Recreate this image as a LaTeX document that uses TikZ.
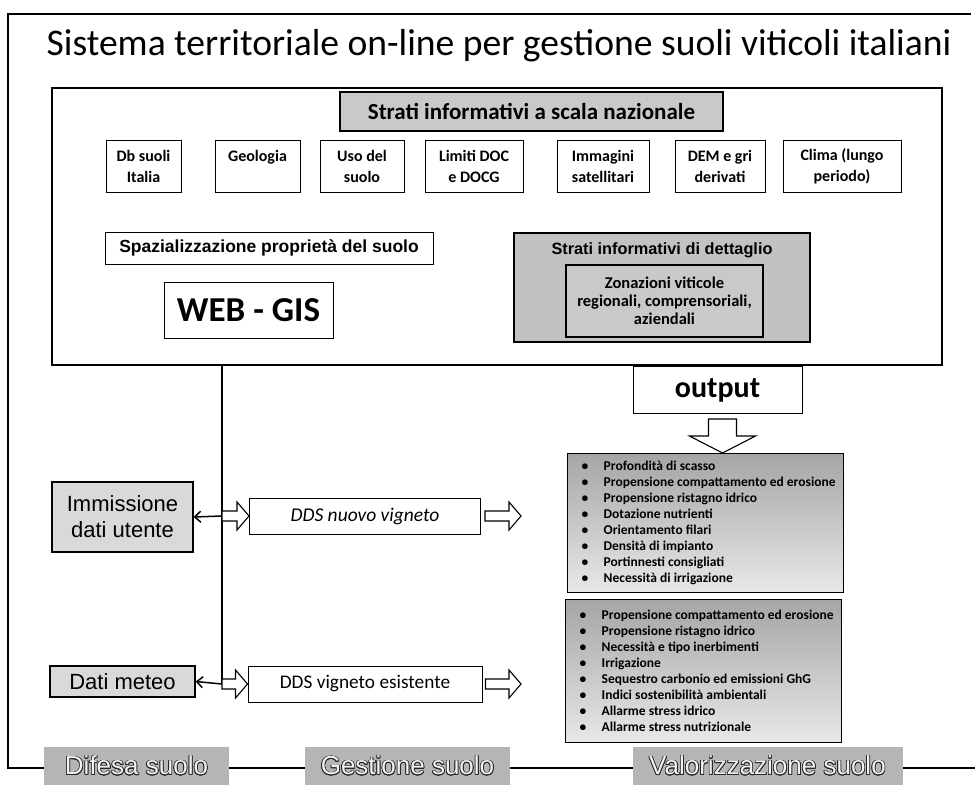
\documentclass[tikz,border=0pt]{standalone}
\usepackage{fontspec}
\usepackage[copies]{contour}
\setmainfont{Carlito}
\newfontfamily\arialfont{Liberation Sans}
\usetikzlibrary{arrows.meta,calc}

% hollow block arrow pointing right, from #1 to #2 (same height)
\newcommand\rightblock[2]{%
  \draw[blockarrow] let \p1=(#1), \p2=(#2) in
    (\x1,\y1+5pt) -- (\x2-12pt,\y1+5pt) -- (\x2-12pt,\y1+14pt) -- (\x2,\y1)
    -- (\x2-12pt,\y1-14pt) -- (\x2-12pt,\y1-5pt) -- (\x1,\y1-5pt) -- cycle;}
% hollow block arrow pointing down, from #1 to #2
\newcommand\downblock[2]{%
  \draw[blockarrow] let \p1=(#1), \p2=(#2) in
    (\x1-14pt,\y1) -- (\x1+14pt,\y1) -- (\x1+14pt,\y2+17pt) -- (\x1+33pt,\y2+17pt)
    -- (\x1,\y2) -- (\x1-33pt,\y2+17pt) -- (\x1-14pt,\y2+17pt) -- cycle;}

\contourlength{0.7pt}
\contournumber{16}
\newcommand\hollowtext[1]{\contour{black!85}{\textcolor{gray!10}{#1}}}

\tikzset{
  box/.style={draw, line width=1pt, fill=white, align=center, inner sep=0pt},
  layerbox/.style={box, font=\bfseries\fontsize{16}{21}\selectfont, minimum height=52},
  grayhead/.style={draw, line width=1.3pt, fill=gray!42, align=center, inner sep=0pt},
  listbox/.style={draw, line width=1.3pt, top color=gray!70, bottom color=gray!18,
    align=left, inner sep=0pt, anchor=north west,
    font=\bfseries\fontsize{13.5}{16}\selectfont},
  userbox/.style={draw, line width=1.3pt, fill=gray!30, align=center, inner sep=0pt,
    font=\arialfont\fontsize{22}{26}\selectfont},
  footer/.style={fill=gray!58, inner sep=0pt, minimum height=38,
    font=\arialfont\fontsize{26}{28}\selectfont},
  link/.style={line width=1.5pt},
  backarrow/.style={line width=1.5pt, -{Straight Barb[length=6pt,width=11pt]}},
  blockarrow/.style={draw, line width=1.1pt, fill=white, line join=miter},
}
\newcommand\bul{\makebox[22pt][l]{\textbullet}}

\begin{document}
\begin{tikzpicture}[x=1pt,y=-1pt]
\useasboundingbox (0,0) rectangle (975,785);

% outer frame
\draw[line width=1.3pt] (971,14) -- (8,14) -- (8,768) -- (975,768);

% title
\node[font=\fontsize{37.6}{40}\selectfont] (title) at (499,46) {Sistema territoriale on-line per gestione suoli viticoli italiani};

% main web-gis frame
\node[draw, line width=2pt, minimum width=890, minimum height=277] (gis) at (497,226.5) {};

\node[grayhead, minimum width=383, minimum height=39,
      font=\bfseries\fontsize{23}{25}\selectfont] (naz) at (531.5,111.5) {Strati informativi a scala nazionale};

\node[layerbox, minimum width=75]  (db)    at (143.5,166) {Db suoli\\Italia};
\node[layerbox, minimum width=85]  (geo)   at (257.5,166) {Geologia\\\mbox{}};
\node[layerbox, minimum width=84]  (uso)   at (362,166)   {Uso del\\suolo};
\node[layerbox, minimum width=98]  (doc)   at (474,166)   {Limiti DOC\\e DOCG};
\node[layerbox, minimum width=92]  (img)   at (603,166)   {Immagini\\satellitari};
\node[layerbox, minimum width=90]  (dem)   at (720,166)   {DEM e gri\\derivati};
\node[layerbox, minimum width=118] (clima) at (842,166)   {Clima (lungo\\periodo)};

\node[box, minimum width=328, minimum height=32,
      font=\arialfont\bfseries\fontsize{17.5}{20}\selectfont] (spaz) at (269,248) {Spazializzazione proprietà del suolo};
\node[box, minimum width=169, minimum height=56,
      font=\bfseries\fontsize{35}{38}\selectfont] (webgis) at (248.5,310) {WEB - GIS};

% detail layers
\node[grayhead, line width=1.5pt, fill=gray!48, minimum width=296, minimum height=109] (det) at (662,287.5) {};
\node[font=\arialfont\bfseries\fontsize{16.3}{18}\selectfont] (dettitle) at (662,250) {Strati informativi di dettaglio};
\node[grayhead, line width=1.2pt, minimum width=197, minimum height=72,
      font=\bfseries\fontsize{16.5}{18}\selectfont] (zon) at (664.5,301) {Zonazioni viticole\\regionali, comprensoriali,\\aziendali};

% output
\node[box, minimum width=169, minimum height=47,
      font=\bfseries\fontsize{30}{32}\selectfont, anchor=north] (out) at (717.5,366) {output};

% output lists
\node[listbox, minimum width=276, minimum height=139] (list1) at (567,453) {%
  \hspace{6pt}\bul Profondità di scasso\\
  \hspace{6pt}\bul Propensione compattamento ed erosione\\
  \hspace{6pt}\bul Propensione ristagno idrico\\
  \hspace{6pt}\bul Dotazione nutrienti\\
  \hspace{6pt}\bul Orientamento filari\\
  \hspace{6pt}\bul Densità di impianto\\
  \hspace{6pt}\bul Portinnesti consigliati\\
  \hspace{6pt}\bul Necessità di irrigazione};
\node[listbox, minimum width=276, minimum height=143] (list2) at (565,599) {%
  \hspace{6pt}\bul Propensione compattamento ed erosione\\
  \hspace{6pt}\bul Propensione ristagno idrico\\
  \hspace{6pt}\bul Necessità e tipo inerbimenti\\
  \hspace{6pt}\bul Irrigazione\\
  \hspace{6pt}\bul Sequestro carbonio ed emissioni GhG\\
  \hspace{6pt}\bul Indici sostenibilità ambientali\\
  \hspace{6pt}\bul Allarme stress idrico\\
  \hspace{6pt}\bul Allarme stress nutrizionale};

% user side
\node[userbox, minimum width=141, minimum height=70] (imm) at (122.5,517) {Immissione\\dati utente};
\node[userbox, minimum width=145, minimum height=31] (meteo) at (122.5,681.5) {Dati meteo};

\node[box, minimum width=231, minimum height=36,
      font=\itshape\fontsize{19.5}{22}\selectfont] (nuovo) at (365,516) {DDS nuovo vigneto};
\node[box, minimum width=234, minimum height=36,
      font=\fontsize{19.3}{22}\selectfont] (esist) at (365,684) {DDS vigneto esistente};

\coordinate (j1) at (222,516);
\coordinate (j2) at (222,684);
\coordinate (t1) at (521,516);
\coordinate (t2) at (521,684);

% connectors
\draw[link] (gis.south -| j1) -- (j2);
\draw[backarrow] (j1) -- (imm.east);
\draw[backarrow] (j2) -- (meteo.east);
\rightblock{j1}{nuovo.west}
\rightblock{j2}{esist.west}
\rightblock{$(nuovo.east)+(4,0)$}{t1}
\rightblock{$(esist.east)+(3,0)$}{t2}
\downblock{$(out.south)+(5,5)$}{list1.north -| {$(out.south)+(5,0)$}}

% footer labels
\node[footer, minimum width=185] (difesa) at (136.5,766) {\hollowtext{Difesa suolo}};
\node[footer, minimum width=205] (gest)   at (407.5,766) {\hollowtext{Gestione suolo}};
\node[footer, minimum width=270] (valor)  at (767.5,766) {\hollowtext{Valorizzazione suolo}};
\end{tikzpicture}
\end{document}
